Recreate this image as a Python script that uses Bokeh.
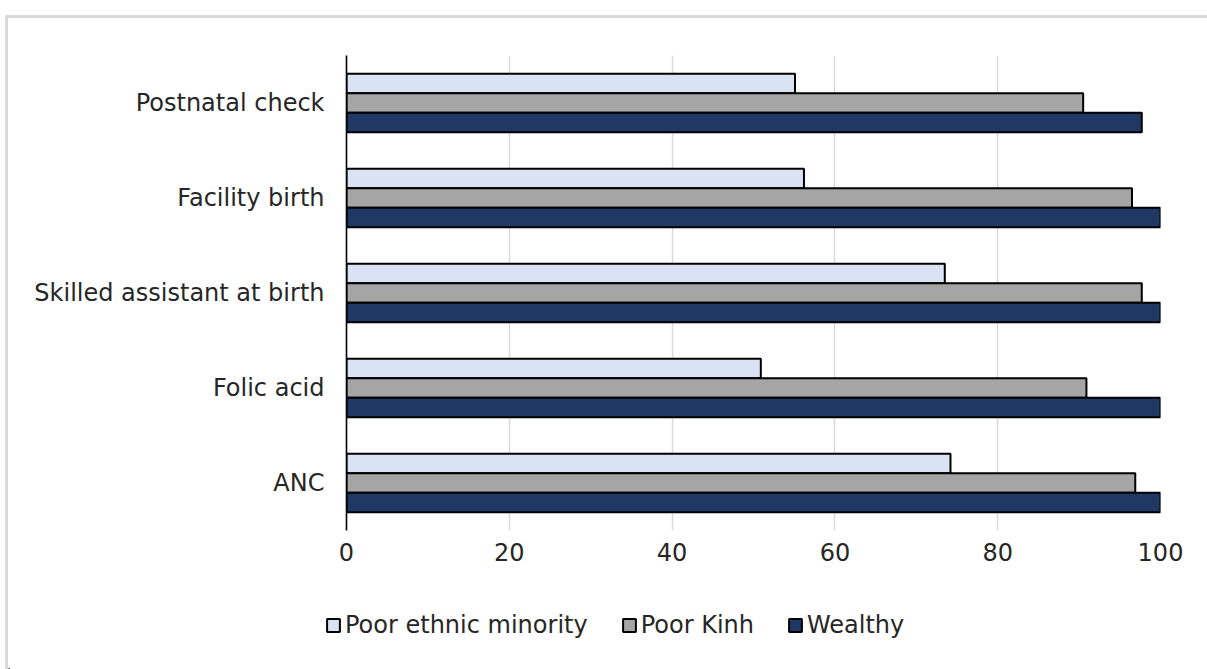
from bokeh.plotting import figure
from bokeh.layouts import column
from bokeh.models import ColumnDataSource, FactorRange, Range1d, Legend, LegendItem, FixedTicker
from bokeh.transform import dodge
from bokeh.embed import file_html
from bokeh.resources import INLINE

categories = ["Postnatal check", "Facility birth", "Skilled assistant at birth", "Folic acid", "ANC"]
series_names = ["Poor ethnic minority", "Poor Kinh", "Wealthy"]
poor_ethnic_minority = [55.1, 56.2, 73.5, 50.9, 74.2]
poor_kinh = [90.5, 96.5, 97.7, 90.9, 96.9]
wealthy = [97.7, 100, 100, 100, 100]
x_ticks = [0, 20, 40, 60, 80, 100]

colors = ["#dae3f3", "#a5a5a5", "#203864"]
FONT = "DejaVu Sans"
TEXT = "#262626"
BORDER = "3px solid #d9d9d9"

src = ColumnDataSource(dict(cat=categories, pem=poor_ethnic_minority, pk=poor_kinh, w=wealthy))

W = 1202
p = figure(width=W, height=565, output_backend="svg", toolbar_location=None,
           y_range=FactorRange(factors=list(reversed(categories)), range_padding=0, factor_padding=0),
           x_range=Range1d(0, 100),
           min_border_left=338, min_border_right=50, min_border_top=37, min_border_bottom=53)
p.styles = {"border-top": BORDER, "border-left": BORDER}
p.frame_align = False

bh = 0.205
for col, off, c in [("pem", bh, colors[0]), ("pk", 0, colors[1]), ("w", -bh, colors[2])]:
    p.hbar(y=dodge("cat", off, range=p.y_range), right=col, left=0, height=bh, source=src,
           fill_color=c, line_color="black", line_width=2)

p.outline_line_color = None
p.background_fill_color = "white"
p.border_fill_color = "white"
p.ygrid.grid_line_color = None
p.xgrid.grid_line_color = "#d9d9d9"
p.xgrid.grid_line_width = 1.5
p.xaxis.ticker = FixedTicker(ticks=x_ticks)

p.xaxis.axis_line_color = None
p.xaxis.major_tick_line_color = None
p.xaxis.minor_tick_line_color = None
p.xaxis.major_tick_out = 0
p.xaxis.major_label_standoff = 12
p.xaxis.major_label_text_font = FONT
p.xaxis.major_label_text_font_size = "24px"
p.xaxis.major_label_text_color = TEXT

p.yaxis.axis_line_color = "black"
p.yaxis.axis_line_width = 1.6
p.yaxis.major_tick_line_color = None
p.yaxis.minor_tick_line_color = None
p.yaxis.major_tick_out = 0
p.yaxis.major_label_standoff = 22
p.yaxis.major_label_text_font = FONT
p.yaxis.major_label_text_font_size = "24px"
p.yaxis.major_label_text_color = TEXT

# legend strip below the chart
LH = 89
q = figure(width=W, height=LH, output_backend="svg", toolbar_location=None,
           x_range=Range1d(0, W - 3), y_range=Range1d(0, LH),
           min_border_left=0, min_border_right=0, min_border_top=0, min_border_bottom=0)
q.frame_align = False
q.styles = {"border-left": BORDER}
q.axis.visible = False
q.grid.visible = False
q.outline_line_color = None
q.border_fill_color = "white"
q.background_fill_color = "white"
rends = []
for c in colors:
    # swatch renderers placed outside the visible range; only their legend glyphs show
    rends.append(q.hbar(y=[-1000], right=[1], left=[0], height=1, fill_color=c,
                        line_color="black", line_width=2))

legend = Legend(items=[LegendItem(label=n, renderers=[r]) for n, r in zip(series_names, rends)],
                location=(317, 30), orientation="horizontal",
                padding=0, margin=0, spacing=33, label_standoff=4,
                glyph_width=16, glyph_height=16,
                border_line_color=None, background_fill_alpha=0,
                label_text_font=FONT, label_text_font_size="24px", label_text_color=TEXT)
q.add_layout(legend, "center")

layout = column(p, q, spacing=0, styles={"margin-left": "5px", "margin-top": "15px"})

open("out.html", "w").write(file_html(layout, INLINE))
